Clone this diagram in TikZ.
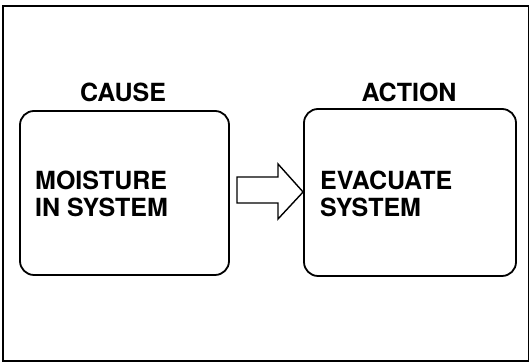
\documentclass[tikz,border=0pt]{standalone}
\usepackage{fontspec}
\setmainfont{TeX Gyre Heros}
\begin{document}
\begin{tikzpicture}[x=1pt,y=1pt,
  frame/.style={draw=black,line width=1.2pt},
  box/.style={draw=black,line width=1.8pt,rounded corners=14pt,inner sep=0pt},
  title/.style={font=\fontsize{25}{27}\selectfont\bfseries,inner sep=0pt,anchor=base},
  body/.style={font=\fontsize{25}{27}\selectfont\bfseries,inner sep=0pt,align=left,anchor=base west},
  blockarrow/.style={draw=black,line width=1.4pt,line join=miter,fill=white}]
\useasboundingbox (0,0) rectangle (530,363);
\draw[frame] (3,2) rectangle (528.5,357);
\node[box,minimum width=209pt,minimum height=164pt] (cause) at (124.5,170) {};
\node[box,minimum width=212pt,minimum height=167pt] (action) at (410,170.5) {};
\node[title] (causet) at (123,261) {CAUSE};
\node[title] (actiont) at (409,261) {ACTION};
\node[body] (moist) at (35,146) {MOISTURE\\IN SYSTEM};
\node[body] (evac) at (320,146) {EVACUATE\\SYSTEM};
\coordinate (tip) at (action.west |- 0,171);
\draw[blockarrow] (237,186) -- (278,186) -- (278,199) -- (tip) -- (278,144) -- (278,160) -- (237,160) -- cycle;
\end{tikzpicture}
\end{document}
